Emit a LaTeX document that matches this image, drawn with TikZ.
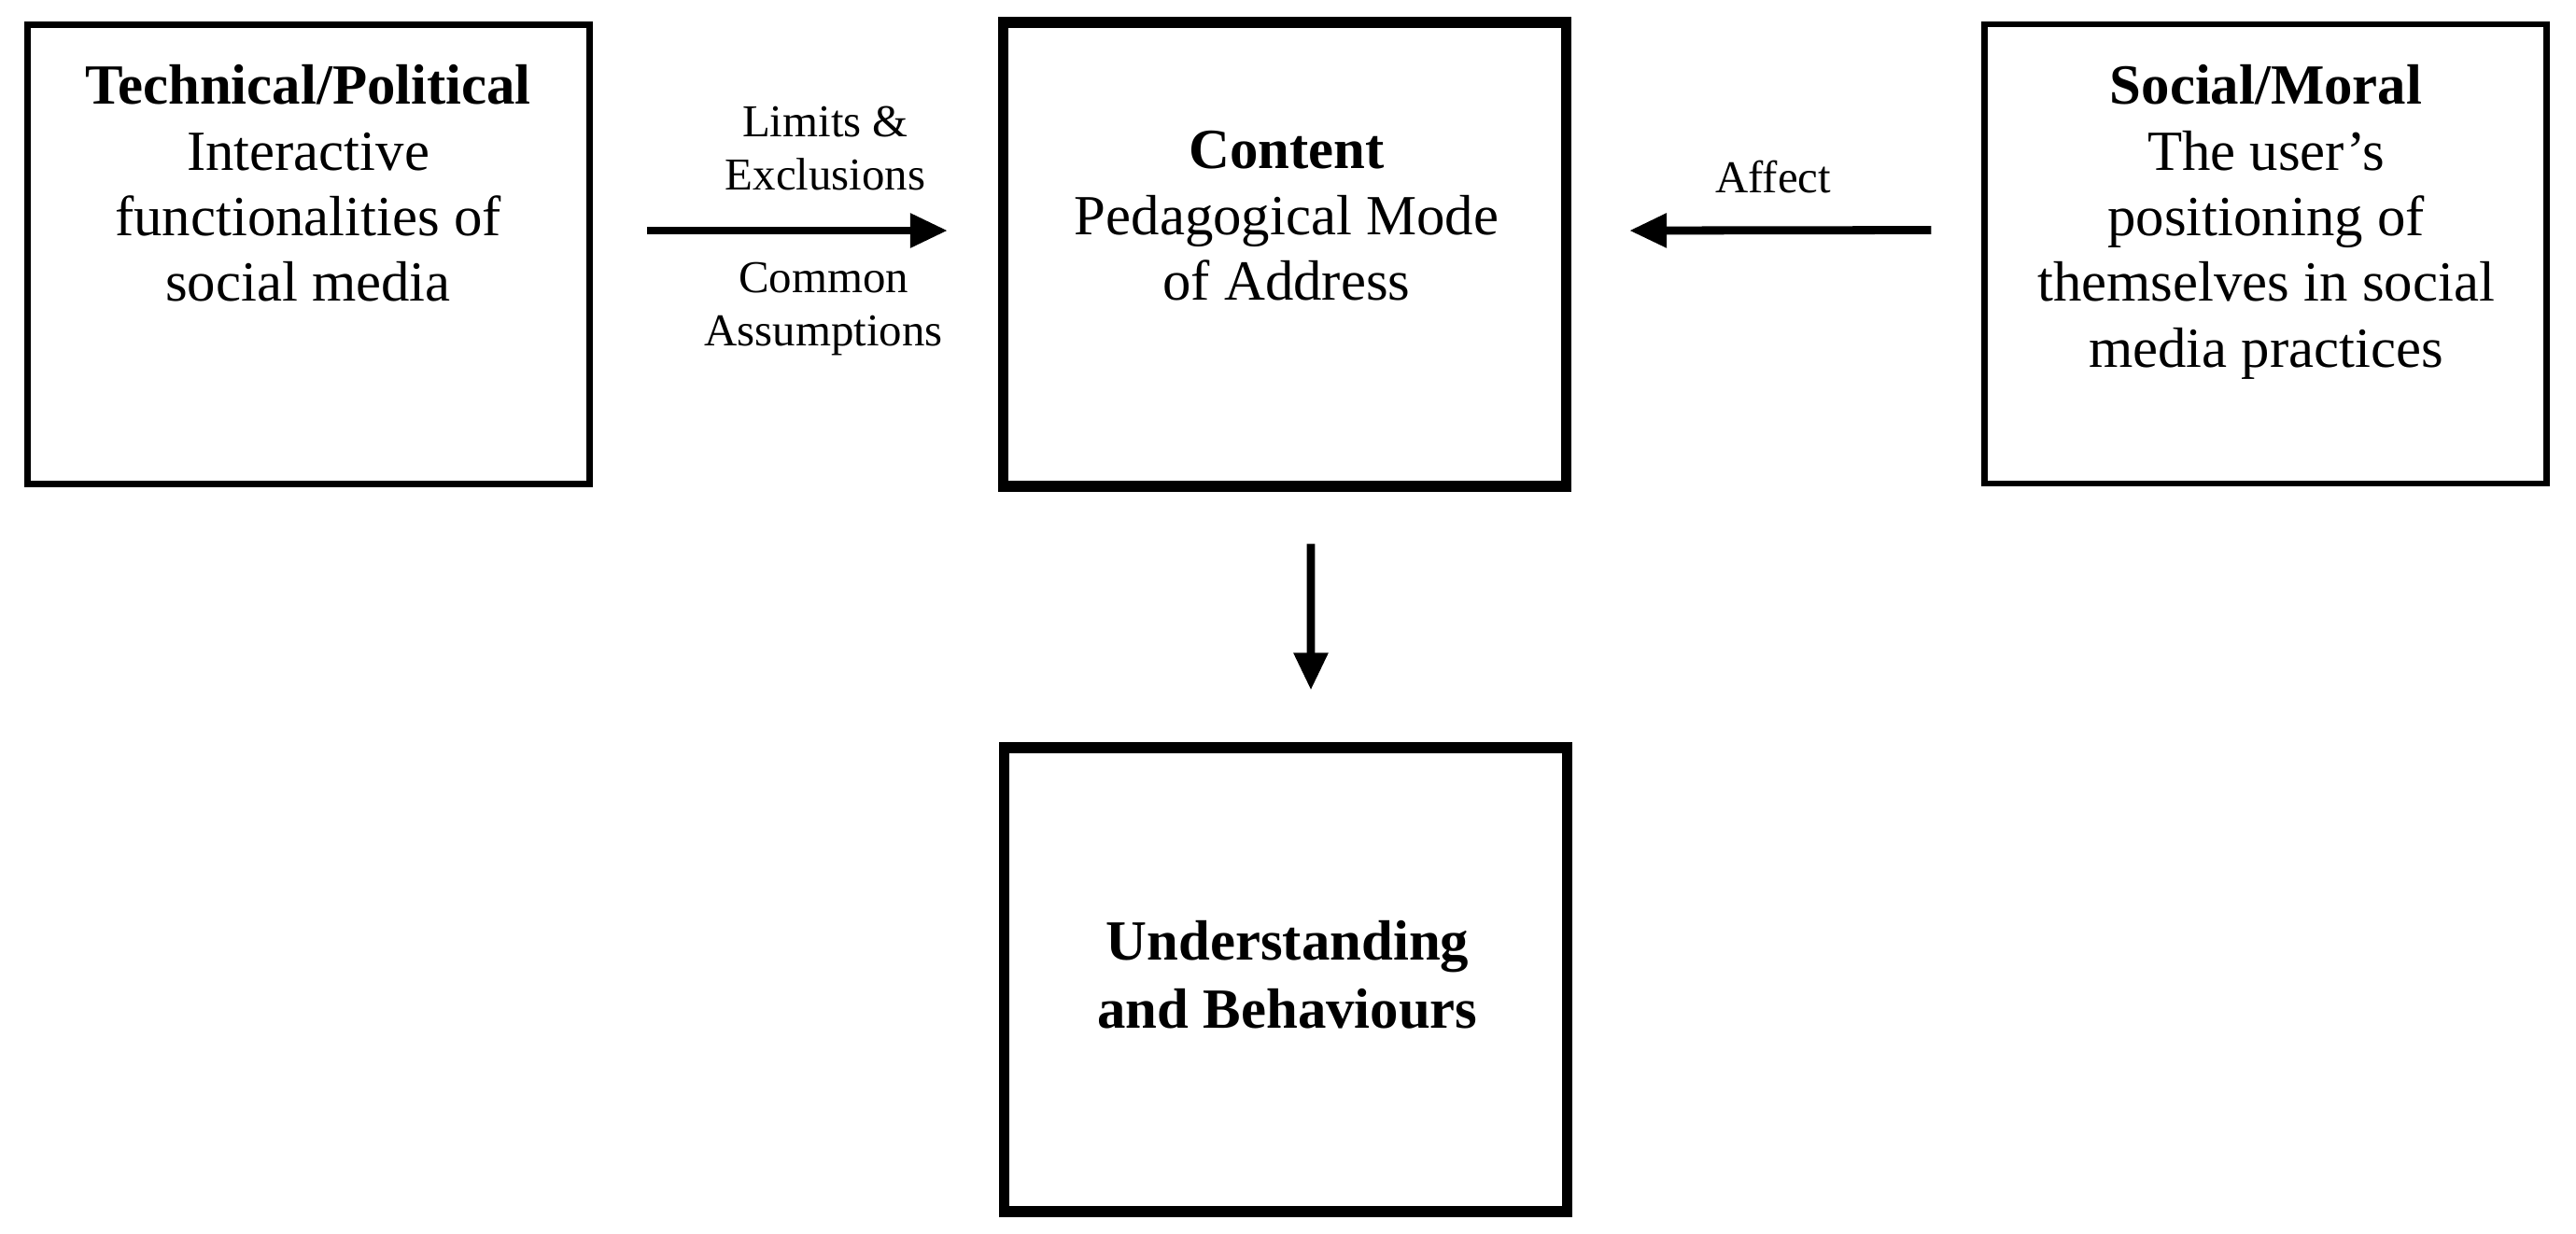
\documentclass[tikz,border=0pt]{standalone}
\usepackage{fontspec}
\setmainfont{Liberation Serif}
\usepackage{tikz}
\usetikzlibrary{arrows.meta, positioning, calc}
\tikzset{
  % Box styles
  sidebox/.style={rectangle, draw=black, line width=1.85pt, minimum width=6.02cm, minimum height=4.92cm, inner sep=0pt},
  corebox/.style={rectangle, draw=black, line width=3.2pt, minimum width=6.03cm, minimum height=4.97cm, inner sep=0pt},
  % Text styles
  boxtext/.style={align=center, inner sep=0pt, font=\fontsize{17.3}{20}\selectfont},
  resulttext/.style={align=center, inner sep=0pt, font=\fontsize{17.3}{20.8}\selectfont\bfseries},
  edgelabel/.style={align=center, inner sep=0pt, font=\fontsize{13.9}{16.3}\selectfont},
  % Arrow styles
  flowarrow/.style={-{Triangle[length=4mm, width=3.5mm]}, line width=2.5pt}
}

\begin{document}
\begin{tikzpicture}
  \useasboundingbox (0,0) rectangle (27.59,-13.21);

  % Boxes
  \node[sidebox] (tech) at (3.305,-2.725) {};
  \node[corebox] (content) at (13.76,-2.725) {};
  \node[sidebox] (social) at (24.265,-2.72) {};
  \node[corebox] (outcome) at (13.77,-10.495) {};

  % Box texts
  \node[boxtext, anchor=north] (techtext) at (3.30,-0.69) {\textbf{Technical/Political}\\Interactive\\functionalities of\\social media};
  \node[boxtext, anchor=north] (contenttext) at (13.78,-1.40) {\textbf{Content}\\Pedagogical Mode\\of Address};
  \node[boxtext, anchor=north] (socialtext) at (24.27,-0.69) {\textbf{Social/Moral}\\The user’s\\positioning of\\themselves in social\\media practices};
  \node[resulttext] (outcometext) at (13.79,-10.44) {Understanding\\and Behaviours};

  % Arrows
  \draw[flowarrow] ([xshift=5.8mm, yshift=2.55mm]tech.east) -- ([xshift=-5.4mm, yshift=2.55mm]content.west);
  \draw[flowarrow] ([xshift=-5.4mm, yshift=2.55mm]social.west) -- ([xshift=6.2mm, yshift=2.55mm]content.east);
  \draw[flowarrow] ([xshift=2.8mm, yshift=-5.6mm]content.south) -- ([xshift=2.7mm, yshift=5.6mm]outcome.north);

  % Arrow labels
  \node[edgelabel, anchor=north] (limits) at (8.84,-1.13) {Limits \&\\Exclusions};
  \node[edgelabel, anchor=north] (common) at (8.82,-2.80) {Common\\Assumptions};
  \node[edgelabel, anchor=north] (affect) at (18.99,-1.71) {Affect};
\end{tikzpicture}
\end{document}
